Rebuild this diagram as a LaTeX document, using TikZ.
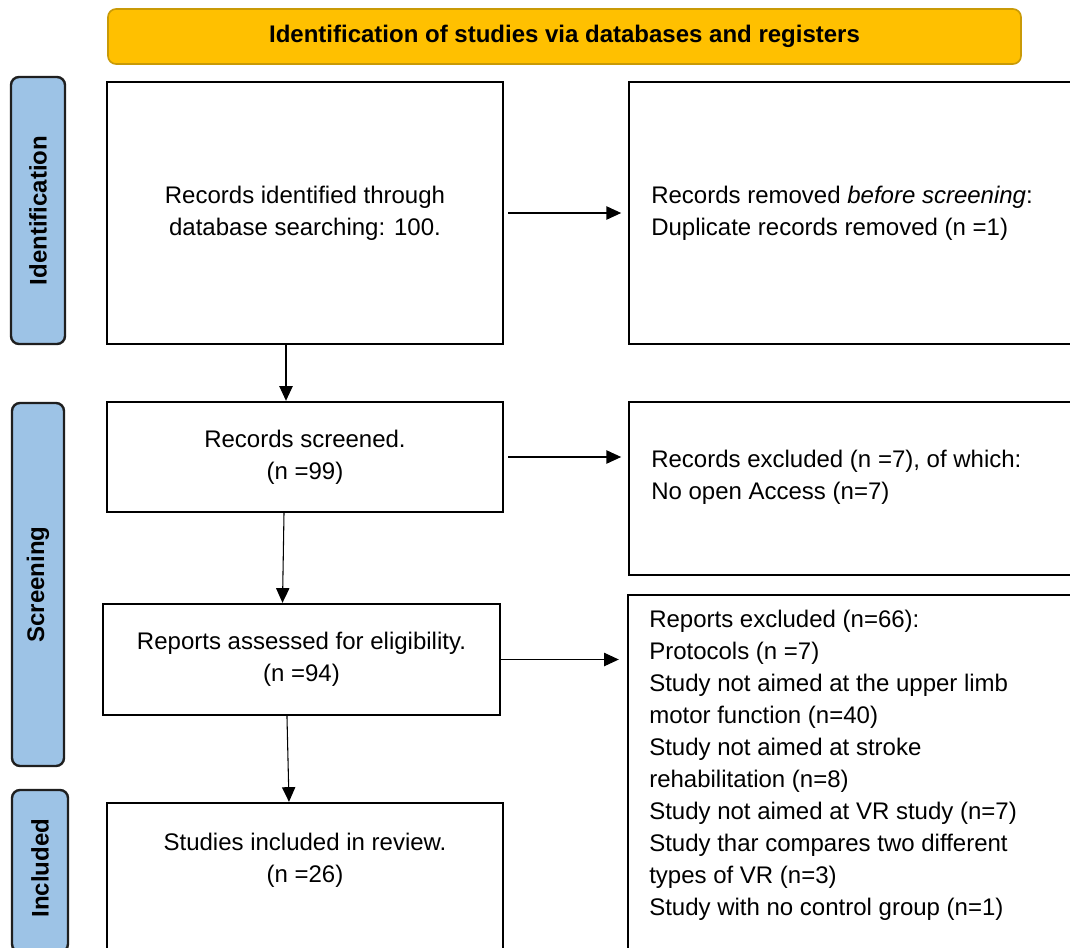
\documentclass[tikz,border=0pt]{standalone}
\usepackage{fontspec}
\setmainfont{Liberation Sans}
\usetikzlibrary{arrows.meta}
\definecolor{gold}{HTML}{FFC000}
\definecolor{goldline}{HTML}{C99A06}
\definecolor{lblue}{HTML}{9DC3E6}
\begin{document}
\begin{tikzpicture}[x=0.75pt,y=-0.75pt,
  font=\fontsize{18}{24}\selectfont,
  box/.style={draw=black, line width=1.8pt, fill=white, inner sep=0pt, align=center},
  phase/.style={draw=black!88, line width=1.8pt, fill=lblue, rounded corners=6pt, inner sep=0pt},
  banner/.style={draw=goldline, line width=1.2pt, fill=gold, rounded corners=6pt, inner sep=0pt, font=\fontsize{18}{24}\selectfont\bfseries},
  txt/.style={align=left, inner sep=0pt},
  arr/.style={line width=0.8pt, -{Triangle[length=11pt,width=10pt]}}
]
\useasboundingbox (0,0) rectangle (1070,947);
\clip (0,0) rectangle (1070,947);
\fill[white] (0,0) rectangle (1070,947);

% banner
\node[banner, minimum width=684.75pt, minimum height=41.25pt] (banner) at (564.5,36.5) {Identification of studies via databases and registers};

% phase labels
\node[phase, minimum width=40.5pt, minimum height=200.25pt] (pid) at (38,210.5) {};
\node[rotate=90, font=\fontsize{18}{24}\selectfont\bfseries] (pidt) at (pid.center) {Identification};
\node[phase, minimum width=39pt, minimum height=272.25pt] (psc) at (38,584.5) {};
\node[rotate=90, font=\fontsize{18}{24}\selectfont\bfseries] (psct) at (psc.center) {Screening};
\node[phase, minimum width=42pt, minimum height=121.5pt] (pin) at (40,871) {};
\node[rotate=90, font=\fontsize{18}{24}\selectfont\bfseries] (pint) at (40,868) {Included};

% left column
\node[box, minimum width=297pt, minimum height=196.5pt] (b1) at (305,213) {Records identified through\\database searching: 100.};
\node[box, minimum width=297pt, minimum height=82.5pt] (b2) at (305,457) {Records screened.\\(n =99)};
\node[box, minimum width=297.75pt, minimum height=83.25pt] (b3) at (301.5,659.5) {Reports assessed for eligibility.\\(n =94)};
\node[box, minimum width=297pt, minimum height=117.75pt] (b4) at (305,881.5) {};
\node[align=center, inner sep=0pt] (b4t) at (305,860) {Studies included in review.\\(n =26)};

% right column
\node[box, minimum width=353.25pt, minimum height=196.5pt] (r1) at (864.5,213) {};
\node[txt, anchor=west] (r1t) at (651,213) {Records removed \textit{before screening}:\\Duplicate records removed (n =1)};
\node[box, minimum width=353.25pt, minimum height=129.75pt] (r2) at (864.5,488.5) {};
\node[txt, anchor=west] (r2t) at (651,477) {Records excluded (n =7), of which:\\No open Access (n=7)};
\node[box, minimum width=354pt, minimum height=273.75pt] (r3) at (864,777.5) {};
\node[txt, anchor=west] (r3t) at (649,765) {Reports excluded (n=66):\\Protocols (n =7)\\Study not aimed at the upper limb\\motor function (n=40)\\Study not aimed at stroke\\rehabilitation (n=8)\\Study not aimed at VR study (n=7)\\Study thar compares two different\\types of VR (n=3)\\Study with no control group (n=1)};

% connectors
\draw[arr] ([xshift=-14.25pt]b1.south) -- ([xshift=-14.25pt]b2.north);
\draw[arr] ([xshift=-15.75pt]b2.south) -- ([xshift=-14.25pt]b3.north);
\draw[arr] ([xshift=-10.9pt]b3.south) -- ([xshift=-12pt]b4.north);
\draw[arr, shorten <=3pt, shorten >=5pt] (b1.east) -- (b1.east -| r1.west);
\draw[arr, shorten <=3pt, shorten >=5pt] (b2.east) -- (b2.east -| r2.west);
\draw[arr, shorten <=0pt, shorten >=6pt] (b3.east) -- (b3.east -| r3.west);
\end{tikzpicture}
\end{document}
